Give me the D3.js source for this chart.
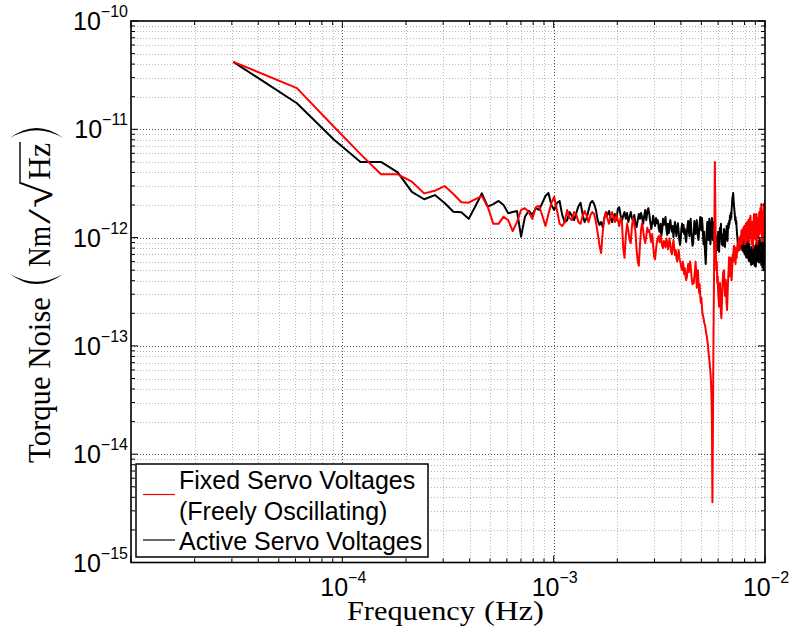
<!DOCTYPE html>
<html>
<head>
<meta charset="utf-8">
<script src="https://cdn.jsdelivr.net/npm/d3@7"></script>
<style>
  html, body { margin: 0; padding: 0; background: #fff; }
  svg { display: block; }
</style>
</head>
<body>
<svg id="chart" width="792" height="636"></svg>
<script>
// ---------------- DATA ----------------
// Frequency bins of the spectrum (Hz): n * binWidthHz, n = 1..N
const binWidthHz = 3.048e-5;
// Torque noise amplitude spectral density, in units of 1e-12 N·m/√Hz
const fixedServo_pNm = [42,24,10.5,5.9,3.84,3.84,3.28,2.56,2.71,2.99,
2.53,2.12,2.1,2.27,2.42,1.92,1.34,1.34,1.56,1.45,
1.15,1.39,1.8,1.87,1.72,1.49,1.91,1.96,1.59,1.28,
1.65,2.09,2.37,1.8,1.34,1.28,1.39,1.8,1.52,1.45,
1.72,1.62,1.39,1.34,1.59,1.76,1.59,1.39,1.62,1.72,
1.65,1.39,1.1,0.855,0.72,1.13,1.52,1.72,1.49,1.34,
1.59,1.72,1.55,1.39,1.62,1.45,1.28,1.52,1.42,0.8,
0.65,1.03,1.34,1.17,0.95,0.89,1.28,1.52,1.31,1.13,
0.77,0.6,0.55,0.855,1.17,1.36,1.17,0.98,0.89,1.03,
1.23,1.13,1.17,1.01,0.91,1.08,0.84,0.67,0.63,0.77,
0.91,0.98,1.03,0.91,1.06,0.95,0.84,0.8,0.93,0.87,
0.82,0.98,0.91,0.78,0.87,0.98,0.84,0.74,0.7,0.84,
0.95,0.8,0.69,0.77,0.65,0.6,0.67,0.77,0.66,0.61,
0.57,0.52,0.5,0.6,0.55,0.46,0.52,0.44,0.405,0.43,
0.5,0.57,0.48,0.55,0.6,0.55,0.46,0.405,0.37,0.39,
0.38,0.44,0.5,0.6,0.48,0.345,0.42,0.5,0.39,0.31,
0.37,0.29,0.25,0.28,0.23,0.2,0.19,0.18,0.165,0.16,
0.153,0.14,0.13,0.123,0.113,0.104,0.091,0.082,0.074,0.065,
0.057,0.048,0.037,0.021,0.0036,0.017,0.091,0.33,1.17,5.0,
1.8,0.77,0.5,0.6,0.38,0.44,0.31,0.265,0.23,0.31,
0.38,0.28,0.2,0.18,0.24,0.33,0.405,0.48,0.42,0.5,
0.36,0.29,0.345,0.405,0.3,0.24,0.215,0.28,0.37,0.44,
0.55,0.66,0.57,0.44,0.52,0.65,0.5,0.405,0.48,0.6,
0.7,0.6,0.77,0.84,0.67,0.82,0.65,0.57,0.69,0.8,
0.65,0.77,0.87,0.74,0.89,0.98,0.84,0.95,0.77,0.91,
1.03,0.87,1.03,1.17,0.95,1.08,0.87,1.03,1.23,0.98,
1.13,1.28,1.03,0.87,1.17,1.34,1.08,0.91,1.17,1.39,
1.13,0.95,1.23,1.45,1.13,0.91,1.28,1.52,1.23,1.59,
1.28,0.98,1.17,0.87,1.13,1.39,1.03,0.8,1.08,1.45,
1.65,1.28,0.98,1.34,1.62,1.23,0.95,1.28,1.65,1.45,
1.13,0.87,1.17,1.52,1.28,1.03,1.39,1.72,1.34,1.08,
1.45,1.87,1.59,1.23,2.04,1.65,1.17,0.91,1.28,1.72,
1.39,0.98,1.52,2.04,1.13,1.72,1.23,2.22];

const activeServo_pNm = [42,17.4,8.0,5.0,5.0,4.0,2.64,2.26,2.47,2.09,
1.73,1.71,1.49,1.96,2.56,1.93,2.04,2.18,2.0,1.68,
1.72,1.76,1.02,1.56,1.77,1.62,1.87,1.8,2.09,2.42,
2.58,2.0,1.8,2.09,2.18,1.62,1.39,1.45,1.72,1.59,
1.45,1.69,1.96,2.09,1.62,1.39,1.52,1.8,2.09,2.18,
2.04,1.8,1.45,1.31,1.39,1.25,1.52,1.72,1.62,1.76,
1.52,1.39,1.55,1.65,1.45,1.84,1.91,1.62,1.42,1.59,
1.72,1.49,1.69,1.39,1.55,1.72,1.52,1.42,1.62,1.34,
1.25,1.45,1.65,1.49,1.69,1.52,1.34,1.59,1.8,1.45,
1.72,1.87,1.65,1.39,1.2,1.34,1.59,1.39,1.28,1.52,
1.36,1.45,1.23,1.13,1.34,1.03,1.17,1.49,1.31,1.39,
1.55,1.2,1.06,1.34,1.1,1.31,1.45,1.23,1.13,1.28,
1.01,1.2,1.39,1.17,1.03,1.25,1.36,1.15,0.95,0.855,
0.98,1.23,1.34,1.13,1.31,1.08,1.2,0.98,0.91,1.1,
1.28,1.42,1.17,1.03,1.39,1.49,1.15,0.95,0.84,0.89,
1.13,1.42,1.28,1.08,1.25,1.45,1.2,1.01,0.95,1.13,
1.34,1.55,1.45,1.17,1.52,1.31,1.03,0.87,1.13,0.855,
0.69,0.57,0.8,1.17,1.39,1.13,0.95,1.28,1.49,1.08,
0.87,1.03,1.31,1.52,1.23,0.95,1.39,0.98,0.8,0.74,
0.95,0.69,0.84,1.03,0.77,0.89,1.13,0.855,0.74,0.98,
1.23,1.13,1.34,1.03,0.87,0.98,0.84,1.08,0.95,1.2,
0.98,0.82,0.95,1.15,1.01,1.28,1.1,0.93,1.17,1.36,
1.23,1.42,1.34,1.59,1.45,1.69,1.52,1.8,2.04,2.31,
2.42,2.58,2.22,2.0,1.8,1.65,1.45,1.55,1.34,1.42,
1.2,1.08,0.98,0.87,0.95,0.82,0.91,0.77,0.87,0.8,
0.93,1.03,0.84,0.97,0.87,0.77,0.98,0.84,0.74,0.89,
1.03,0.8,0.7,0.87,0.97,0.77,0.66,0.82,0.95,0.74,
0.65,0.84,0.93,0.69,0.61,0.77,0.87,0.67,0.6,0.75,
0.65,0.56,0.67,0.82,0.65,0.57,0.72,0.855,0.66,0.59,
0.77,0.63,0.55,0.7,0.84,0.62,0.54,0.77,0.91,0.8,
0.67,0.87,0.74,0.6,0.77,0.93,0.7,0.59,0.8,0.97,
0.75,0.62,0.84,0.69,0.56,0.74,0.89,0.65,0.53,0.69,
0.87,0.63,0.5,0.6,0.8,1.01,0.77,1.13];

const seriesNames = ["Fixed Servo Voltages", "(Freely Oscillating)", "Active Servo Voltages"];
const xTickExponents = [-4, -3, -2];
const yTickExponents = [-15, -14, -13, -12, -11, -10];
const xDomain = [1e-5, 1e-2];
const yDomain = [1e-15, 1e-10];

// ---------------- CHART ----------------
const svg = d3.select("#chart");
const L = 131, R = 765, T = 21, B = 562.5;
const x = d3.scaleLog().domain(xDomain).range([L, R]);
const y = d3.scaleLog().domain(yDomain).range([B, T]);
const sans = "'Liberation Sans', Arial, Helvetica, sans-serif";
const serif = "'Liberation Serif', 'Times New Roman', serif";

function logTicks(domain) {
  const out = [];
  const a = Math.round(Math.log10(domain[0])), b = Math.round(Math.log10(domain[1]));
  for (let e = a; e <= b; e++) {
    for (let m = 1; m <= 9; m++) {
      const v = m * Math.pow(10, e);
      if (v >= domain[0] * 0.9999 && v <= domain[1] * 1.0001) out.push({v, major: m === 1});
    }
  }
  return out;
}
const xt = logTicks(xDomain), yt = logTicks(yDomain);

// grid
const grid = svg.append("g");
grid.selectAll("line.vx").data(xt.filter(d => d.v > xDomain[0] * 1.0001 && d.v < xDomain[1] * 0.9999)).join("line")
  .attr("x1", d => Math.round(x(d.v)) + 0.5).attr("x2", d => Math.round(x(d.v)) + 0.5)
  .attr("y1", T).attr("y2", B)
  .attr("stroke", d => d.major ? "#555" : "#b8b8b8")
  .attr("stroke-width", 1).attr("stroke-dasharray", "1,2");
grid.selectAll("line.hy").data(yt.filter(d => d.v > yDomain[0] * 1.0001 && d.v < yDomain[1] * 0.9999)).join("line")
  .attr("y1", d => Math.round(y(d.v)) + 0.5).attr("y2", d => Math.round(y(d.v)) + 0.5)
  .attr("x1", L).attr("x2", R)
  .attr("stroke", d => d.major ? "#555" : "#b8b8b8")
  .attr("stroke-width", 1).attr("stroke-dasharray", "1,2");

// data lines
svg.append("clipPath").attr("id", "clip").append("rect")
  .attr("x", L).attr("y", T).attr("width", R - L).attr("height", B - T);
const plot = svg.append("g").attr("clip-path", "url(#clip)");
const toPoints = arr => arr.map((v, i) => ({f: (i + 1) * binWidthHz, v: v * 1e-12}));
const line = d3.line().x(d => x(d.f)).y(d => y(d.v));
plot.append("path").datum(toPoints(activeServo_pNm)).attr("d", line)
  .attr("fill", "none").attr("stroke", "#000").attr("stroke-width", 2).attr("stroke-linejoin", "round");
plot.append("path").datum(toPoints(fixedServo_pNm)).attr("d", line)
  .attr("fill", "none").attr("stroke", "#ff0000").attr("stroke-width", 2).attr("stroke-linejoin", "round");

// ticks (inward on all sides)
const ticks = svg.append("g").attr("stroke", "#000").attr("stroke-width", 1);
xt.forEach(d => {
  const px = x(d.v), len = d.major ? 7 : 4;
  ticks.append("line").attr("x1", px).attr("x2", px).attr("y1", B).attr("y2", B - len);
  ticks.append("line").attr("x1", px).attr("x2", px).attr("y1", T).attr("y2", T + len);
});
yt.forEach(d => {
  const py = y(d.v), len = d.major ? 7 : 4;
  ticks.append("line").attr("y1", py).attr("y2", py).attr("x1", L).attr("x2", L + len);
  ticks.append("line").attr("y1", py).attr("y2", py).attr("x1", R).attr("x2", R - len);
});

// frame
svg.append("rect").attr("x", L).attr("y", T).attr("width", R - L).attr("height", B - T)
  .attr("fill", "none").attr("stroke", "#000").attr("stroke-width", 1.6);

// tick labels
const fmtExp = e => "\u2212" + Math.abs(e);
xTickExponents.forEach(e => {
  const t = svg.append("text").attr("x", x(Math.pow(10, e)) + 1).attr("y", 596)
    .attr("text-anchor", "middle").attr("font-family", sans).attr("font-size", 25).attr("fill", "#000");
  t.append("tspan").text("10");
  t.append("tspan").attr("dy", -13).attr("font-size", 16).text(fmtExp(e));
});
yTickExponents.forEach(e => {
  const t = svg.append("text").attr("x", 128).attr("y", y(Math.pow(10, e)) + 9)
    .attr("text-anchor", "end").attr("font-family", sans).attr("font-size", 25).attr("fill", "#000");
  t.append("tspan").text("10");
  t.append("tspan").attr("dy", -13).attr("font-size", 16).text(fmtExp(e));
});

// x title (two pieces, like a LaTeX label with a math space)
svg.append("text").attr("x", 347).attr("y", 620)
  .attr("font-family", serif).attr("font-size", 27).attr("fill", "#000")
  .attr("textLength", 128).attr("lengthAdjust", "spacingAndGlyphs").text("Frequency");
svg.append("text").attr("x", 484).attr("y", 620)
  .attr("font-family", serif).attr("font-size", 27).attr("fill", "#000")
  .attr("textLength", 60).attr("lengthAdjust", "spacingAndGlyphs").text("(Hz)");

// y title (rotated), pieces placed along the rotated axis
const ytg = svg.append("g").attr("transform", "translate(50,463) rotate(-90)");
function piece(txt, start, len, size, dy = 0) {
  ytg.append("text").attr("x", start).attr("y", dy)
    .attr("font-family", serif).attr("font-size", size).attr("fill", "#000")
    .attr("textLength", len).attr("lengthAdjust", "spacingAndGlyphs").text(txt);
}
piece("Torque Noise", 0, 166, 31);
// tall thin delimiters
ytg.append("path").attr("d", "M189,-40 Q169,-13.5 189,13 Q173.5,-13.5 189,-40 Z").attr("fill", "#000");
piece("Nm", 196, 41, 31);
piece("/", 239, 15, 31);
piece("\u221A", 255, 26, 40, 2);
piece("Hz", 283, 37, 31);
ytg.append("line").attr("x1", 279).attr("x2", 321).attr("y1", -30).attr("y2", -30)
  .attr("stroke", "#000").attr("stroke-width", 1.4);
ytg.append("path").attr("d", "M325,-40 Q345,-13.5 325,13 Q340.5,-13.5 325,-40 Z").attr("fill", "#000");

// legend
const lg = svg.append("g");
lg.append("rect").attr("x", 136).attr("y", 464).attr("width", 292).attr("height", 93)
  .attr("fill", "#fff").attr("stroke", "#000").attr("stroke-width", 1.5);
lg.append("line").attr("x1", 143).attr("x2", 175).attr("y1", 494.5).attr("y2", 494.5)
  .attr("stroke", "#ff0000").attr("stroke-width", 1.2);
lg.append("line").attr("x1", 143).attr("x2", 175).attr("y1", 540).attr("y2", 540)
  .attr("stroke", "#000").attr("stroke-width", 1.2);
[[488.5, seriesNames[0]], [519.5, seriesNames[1]], [550, seriesNames[2]]].forEach(([yy, s]) => {
  lg.append("text").attr("x", 179).attr("y", yy).attr("font-family", sans).attr("font-size", 25)
    .attr("fill", "#000").text(s);
});
</script>
</body>
</html>
